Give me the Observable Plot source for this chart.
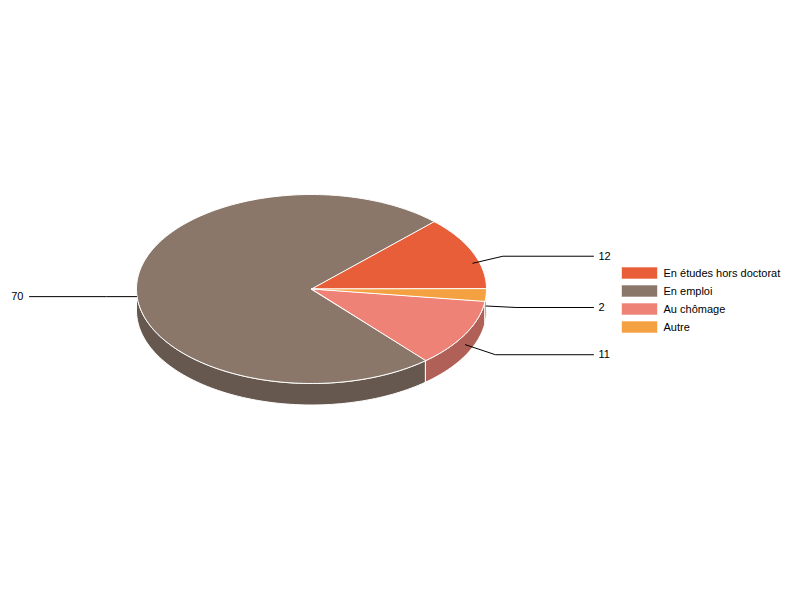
<!DOCTYPE html>
<html>
<head>
<meta charset="utf-8">
<script src="https://cdn.jsdelivr.net/npm/d3@7"></script>
<script src="https://cdn.jsdelivr.net/npm/@observablehq/plot@0.6"></script>
<style>
  html, body { margin: 0; padding: 0; background: #fff; }
  #chart { width: 800px; height: 600px; }
  svg { font-family: "Liberation Sans", Arial, sans-serif; }
</style>
</head>
<body>
<div id="chart"></div>
<script>
// ---- data ----
const categories = ["En études hors doctorat", "En emploi", "Au chômage", "Autre"];
const values = [12, 70, 11, 2];
const colors = ["#E85E38", "#8A7769", "#EE8276", "#F4A141"];

// ---- layout (geometry of the 3D pie, not data) ----
const W = 800, H = 600;
const cx = 311, cy = 288.5, rx = 175, ry = 94.5, depth = 21.5;
const labelRightX = 598, lineEndRightX = 593, labelLeftX = 23, lineEndLeftX = 29;
const labelYAdjust = [-7, 0, 10, 1.5];
const legendX = 622, legendTop = 267.5, legendStep = 18, swatchW = 35, swatchH = 11;

const total = d3.sum(values);
const pt = (deg, dy = 0) => {
  const t = deg * Math.PI / 180;
  return [cx + rx * Math.cos(t), cy - ry * Math.sin(t) + dy];
};
const arcPts = (a0, a1, dy = 0) => {
  const n = Math.max(2, Math.ceil(Math.abs(a1 - a0) / 1.5));
  return d3.range(n + 1).map(k => pt(a0 + (a1 - a0) * k / n, dy));
};

let acc = 0;
const slices = values.map((v, i) => {
  const a0 = acc / total * 360;
  acc += v;
  const a1 = acc / total * 360;
  return {i, name: categories[i], value: v, a0, a1, color: colors[i]};
});

const topRows = [], sideRows = [], leaderRows = [], labelRows = [];
for (const s of slices) {
  // top face
  [[cx, cy], ...arcPts(s.a0, s.a1)].forEach(([x, y]) => topRows.push({id: "t" + s.i, x, y, color: s.color}));
  // visible side (front half: 180..360)
  const s0 = Math.max(s.a0, 180), s1 = Math.min(s.a1, 360);
  if (s1 > s0) {
    const side = d3.color(s.color).darker(0.85).formatHex();
    [...arcPts(s0, s1), ...arcPts(s1, s0, depth)].forEach(([x, y]) => sideRows.push({id: "s" + s.i, x, y, color: side}));
  }
  // leader line + label
  const mid = (s.a0 + s.a1) / 2;
  const [ax, ay] = pt(mid, depth / 2);
  const right = Math.cos(mid * Math.PI / 180) >= 0;
  const ly = ay + labelYAdjust[s.i];
  if (right) {
    leaderRows.push({id: "l" + s.i, x: ax, y: ay}, {id: "l" + s.i, x: ax + 30, y: ly}, {id: "l" + s.i, x: lineEndRightX, y: ly});
    labelRows.push({x: labelRightX, y: ly, text: String(s.value), anchor: "start"});
  } else {
    leaderRows.push({id: "l" + s.i, x: ax, y: ay}, {id: "l" + s.i, x: ax - 30, y: ly}, {id: "l" + s.i, x: lineEndLeftX, y: ly});
    labelRows.push({x: labelLeftX, y: ly, text: String(s.value), anchor: "end"});
  }
}

const legendRows = slices.map((s, k) => ({
  x1: legendX, x2: legendX + swatchW,
  y1: legendTop + k * legendStep, y2: legendTop + k * legendStep + swatchH,
  ty: legendTop + k * legendStep + swatchH / 2, name: s.name, color: s.color
}));

const chart = Plot.plot({
  width: W, height: H,
  margin: 0,
  x: {type: "identity", axis: null},
  y: {type: "identity", axis: null},
  color: {type: "identity"},
  style: {fontFamily: "Liberation Sans, Arial, sans-serif", background: "white"},
  marks: [
    Plot.line(sideRows, {x: "x", y: "y", z: "id", fill: "color", stroke: "white", strokeWidth: 1, curve: "linear-closed"}),
    Plot.line(topRows, {x: "x", y: "y", z: "id", fill: "color", stroke: "white", strokeWidth: 1, curve: "linear-closed"}),
    Plot.line(leaderRows, {x: "x", y: "y", z: "id", stroke: "#000", strokeWidth: 1}),
    Plot.text(labelRows.filter(d => d.anchor === "start"), {x: "x", y: "y", text: "text", textAnchor: "start", fontSize: 11, fill: "#000"}),
    Plot.text(labelRows.filter(d => d.anchor === "end"), {x: "x", y: "y", text: "text", textAnchor: "end", fontSize: 11, fill: "#000"}),
    Plot.rect(legendRows, {x1: "x1", x2: "x2", y1: "y1", y2: "y2", fill: "color", stroke: "color", strokeOpacity: 0.4}),
    Plot.text(legendRows, {x: legendX + swatchW + 6, y: "ty", text: "name", textAnchor: "start", fontSize: 11, fill: "#000"})
  ]
});
document.getElementById("chart").appendChild(chart);
</script>
</body>
</html>
